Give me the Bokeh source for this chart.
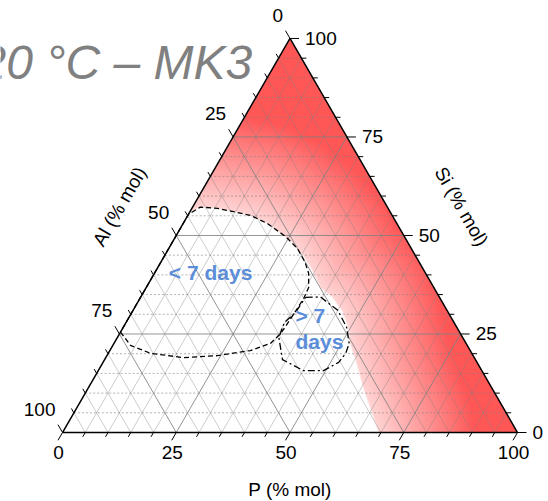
import numpy as np
from bokeh.plotting import figure
from bokeh.models import Range1d
from bokeh.core.properties import value
from bokeh.embed import file_html
from bokeh.resources import INLINE

# ---------------------------------------------------------------- data
# compositions are given as (P, Si) in % mol, Al is the balance
tick_values = list(range(0, 101, 5))
major_values = [0, 25, 50, 75, 100]
tick_labels = ["0", "25", "50", "75", "100"]

# "< 7 days" domain
short_p = [0.0, 3.9, 9.3, 17.1, 24.3, 30.9, 34.4, 35.4, 35.8, 36.0, 35.7, 33.9,
           31.8, 28.3, 24.2, 18.6, 13.8, 5.6, 1.7, 0.5, 0.0, 0.0]
short_si = [25.5, 22.1, 20.1, 19.0, 19.5, 20.8, 22.6, 25.1, 30.1, 34.0, 36.8, 40.4,
            43.1, 46.7, 49.7, 53.0, 55.1, 56.9, 57.2, 55.9, 55.7, 25.5]

# "> 7 days" domain
long_p = [36.3, 39.5, 45.0, 49.1, 51.7, 52.2, 51.8, 49.5, 45.1, 39.1, 35.5, 34.8,
          36.0, 36.1, 36.3]
long_si = [34.3, 34.4, 31.0, 26.7, 22.6, 20.1, 17.8, 15.7, 15.7, 18.5, 24.1, 27.9,
           30.5, 32.5, 34.3]

# limit of the red domain, from the P axis round to the Al axis
limit_p = [69.5, 60.4, 55.3, 51.9, 49.7, 46.2, 42.2, 38.3, 34.4, 30.5, 25.7, 18.6,
           13.8, 5.6, 1.7, 0.0]
limit_si = [0.0, 11.4, 18.3, 22.6, 26.4, 30.7, 34.3, 36.8, 41.1, 44.9, 48.7, 53.0,
            55.1, 56.9, 57.2, 56.0]

# label anchors (P, Si)
short_label_at = (12.3, 40.5)
long_label_at = ([36.3, 39.6], [29.8, 23.2])

title_text = "20 °C – MK3"
p_title, si_title, al_title = "P (% mol)", "Si (% mol)", "Al (% mol)"
short_label = "< 7 days"
long_label = ["> 7", "days"]

# ---------------------------------------------------------------- geometry
SQ3 = np.sqrt(3) / 2
PX = 455.0                 # screen pixels per unit of triangle side
W, H = 548, 501
OX, OY = 62.0, 432.0       # screen position of the Al corner


def tern(pv, siv):
    pv = np.asarray(pv, float) / 100.0
    siv = np.asarray(siv, float) / 100.0
    return pv + siv / 2.0, siv * SQ3


def scr(xp, yp):
    """screen pixel -> data coordinates"""
    return (xp - OX) / PX, (OY - yp) / PX


FONT = value("Liberation Sans")

p = figure(width=W, height=H,
           x_range=Range1d(-OX / PX, (W - OX) / PX),
           y_range=Range1d(-(H - OY) / PX, OY / PX),
           x_axis_location=None, y_axis_location=None,
           output_backend="svg", toolbar_location=None,
           min_border=0, outline_line_color=None,
           background_fill_color="white", border_fill_color="white")
p.grid.visible = False

# ---------------------------------------------------------------- red shading
ss = 3
nx, ny = 455, 394
xs = (np.arange(nx * ss) + 0.5) / (ss * PX)
ys = (np.arange(ny * ss) + 0.5) / (ss * PX)
GX, GY = np.meshgrid(xs, ys)
g_si = GY / SQ3
g_p = GX - g_si / 2
g_al = 1 - g_p - g_si
in_tri = (g_si >= 0) & (g_p >= 0) & (g_al >= 0)

wx, wy = tern([0.0] + limit_p, [0.0] + limit_si)
inside = np.zeros_like(in_tri)
with np.errstate(divide="ignore", invalid="ignore"):
    for i in range(len(wx)):
        x1, y1 = wx[i], wy[i]
        x2, y2 = wx[(i + 1) % len(wx)], wy[(i + 1) % len(wx)]
        if y1 == y2:
            continue
        cross = ((y1 > GY) != (y2 > GY)) & (GX < (x2 - x1) * (GY - y1) / (y2 - y1) + x1)
        inside ^= cross
cover = (in_tri & ~inside).reshape(ny, ss, nx, ss).mean(axis=(1, 3))

cx = (np.arange(nx) + 0.5) / PX
cy = (np.arange(ny) + 0.5) / PX
CX, CY = np.meshgrid(cx, cy)
lx, ly = tern(limit_p, limit_si)
dist = np.full(CX.shape, np.inf)
for i in range(len(lx) - 1):
    ax_, ay_ = lx[i], ly[i]
    bx_, by_ = lx[i + 1], ly[i + 1]
    vx, vy = bx_ - ax_, by_ - ay_
    t = np.clip(((CX - ax_) * vx + (CY - ay_) * vy) / (vx * vx + vy * vy), 0, 1)
    d = np.hypot(CX - (ax_ + t * vx), CY - (ay_ + t * vy))
    dist = np.minimum(dist, d)
dist_px = dist * PX
shade = np.clip(212 - 1.3 * dist_px, 86, 255)

img = np.zeros((ny, nx), dtype=np.uint32)
view = img.view(dtype=np.uint8).reshape((ny, nx, 4))
view[:, :, 0] = 255
view[:, :, 1] = shade.astype(np.uint8)
view[:, :, 2] = shade.astype(np.uint8)
view[:, :, 3] = np.round(cover * 255).astype(np.uint8)
p.image_rgba(image=[img], x=0, y=0, dw=nx / PX, dh=ny / PX)

# ---------------------------------------------------------------- grid
inner = [v for v in tick_values if 0 < v < 100]
hor_min, dia_min, maj = ([], []), ([], []), ([], [])
for v in inner:
    segs = [
        ("h", tern([0, 100 - v], [v, v])),
        ("d", tern([v, v], [0, 100 - v])),
        ("d", tern([0, 100 - v], [100 - v, 0])),
    ]
    for kind, (sx, sy) in segs:
        if v in major_values:
            tgt = maj
        elif kind == "h":
            tgt = hor_min
        else:
            tgt = dia_min
        tgt[0].append(list(sx))
        tgt[1].append(list(sy))

p.multi_line(dia_min[0], dia_min[1], line_color="#808080", line_alpha=0.4, line_width=1)
p.multi_line(hor_min[0], hor_min[1], line_color="#808080", line_alpha=0.6, line_width=1,
             line_dash="2 2")
p.multi_line(maj[0], maj[1], line_color="#808080", line_alpha=0.85, line_width=1)

# ---------------------------------------------------------------- domains
sx, sy = tern(short_p, short_si)
p.line(sx, sy, line_color="black", line_width=1.3, line_dash="5 3")
lx2, ly2 = tern(long_p, long_si)
p.line(lx2, ly2, line_color="black", line_width=1.3, line_dash="7 3 2 3")

# ---------------------------------------------------------------- frame and ticks
fx, fy = tern([0, 100, 0, 0], [0, 0, 100, 0])
p.line(fx, fy, line_color="black", line_width=1.5)

tx0, ty0, tx1, ty1 = [], [], [], []
for v in tick_values:
    ln = (9.0 if v in major_values else 5.0) / PX
    # P axis (bottom), ticks along the constant-P direction
    bx, by = tern(v, 0)
    tx0.append(float(bx)); ty0.append(float(by))
    tx1.append(float(bx) - 0.5 * ln); ty1.append(float(by) - SQ3 * ln)
    # Si axis (right), ticks horizontal
    rx, ry = tern(100 - v, v)
    tx0.append(float(rx)); ty0.append(float(ry))
    tx1.append(float(rx) + ln); ty1.append(float(ry))
    # Al axis (left), ticks along the constant-Al direction
    lx_, ly_ = tern(0, 100 - v)
    tx0.append(float(lx_)); ty0.append(float(ly_))
    tx1.append(float(lx_) - 0.5 * ln); ty1.append(float(ly_) + SQ3 * ln)
p.segment(tx0, ty0, tx1, ty1, line_color="black", line_width=1)

# tick labels
bxs, bys, rxs, rys, lxs, lys = [], [], [], [], [], []
for v in major_values:
    bx, by = tern(v, 0)
    bxs.append(float(bx) - 4 / PX); bys.append(float(by) - 20 / PX)
    rx, ry = tern(100 - v, v)
    rxs.append(float(rx) + 15 / PX); rys.append(float(ry))
    lx_, ly_ = tern(0, 100 - v)
    lxs.append(float(lx_) - 7 / PX); lys.append(float(ly_) + 23 / PX)
common = dict(text_font=FONT, text_font_size="19px", text_color="black",
              text_baseline="middle")
p.text(bxs, bys, text=tick_labels, text_align="center", **common)
p.text(rxs, rys, text=tick_labels, text_align="left", **common)
p.text(lxs, lys, text=tick_labels, text_align="right", **common)

# axis titles
ax_, ay_ = scr(289.5, 489)
p.text([ax_], [ay_], text=[p_title], text_align="center", text_baseline="middle",
       text_font=FONT, text_font_size="19px", text_color="black")
ax_, ay_ = scr(461, 206)
p.text([ax_], [ay_], text=[si_title], angle=-np.pi / 3, text_align="center",
       text_baseline="middle", text_font=FONT, text_font_size="19px", text_color="black")
ax_, ay_ = scr(119, 206)
p.text([ax_], [ay_], text=[al_title], angle=np.pi / 3, text_align="center",
       text_baseline="middle", text_font=FONT, text_font_size="19px", text_color="black")

# domain labels
BLUE = "#5B8DD9"
kx, ky = tern(*short_label_at)
p.text([float(kx)], [float(ky)], text=[short_label], text_align="center",
       text_baseline="middle", text_font=FONT, text_font_size="21px",
       text_font_style="bold", text_color=BLUE)
kx, ky = tern(*long_label_at)
p.text(list(kx), list(ky), text=long_label,
       text_align="left", text_baseline="middle", text_font=FONT,
       text_font_size="21px", text_font_style="bold", text_color=BLUE)

# title
ttx, tty = scr(-21, 62)
p.text([ttx], [tty], text=[title_text], text_align="left", text_baseline="middle",
       text_font=FONT, text_font_size="48px", text_font_style="italic",
       text_color="#808080")

open("out.html", "w").write(file_html(p, INLINE))
